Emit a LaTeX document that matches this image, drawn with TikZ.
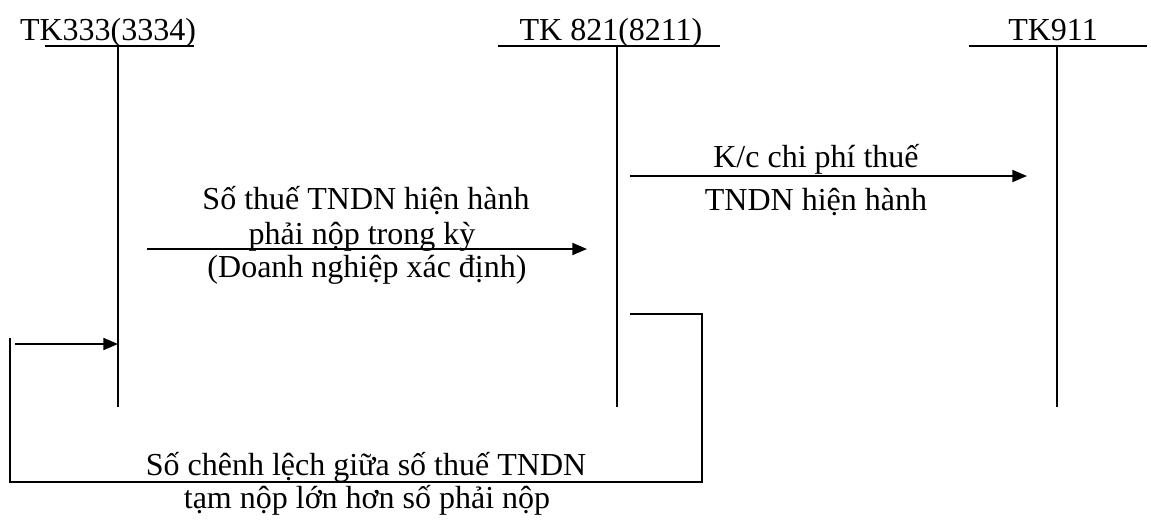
\documentclass[tikz,border=0pt]{standalone}
\usepackage{fontspec}
\setmainfont{Liberation Serif}
\usetikzlibrary{arrows.meta}
\tikzset{%
  acct/.style={anchor=base, inner sep=0pt, font=\fontsize{12}{14}\selectfont},
  lbl/.style={anchor=base, inner sep=0pt, font=\fontsize{12}{14}\selectfont},
  tline/.style={line width=0.75pt},
  flow/.style={line width=0.75pt, -{Triangle[length=5.5pt,width=4.5pt]}},
}

\begin{document}
\begin{tikzpicture}[x=0.375pt,y=-0.375pt]
  \useasboundingbox (0,0) rectangle (1151,519);
  % T accounts: name/title/title centre/underline ends/stem
  \foreach \n/\t/\c/\l/\r/\v in {a/TK333(3334)/108/45/194/118,
                                 b/TK 821(8211)/611/498/720/617,
                                 c/TK911/1053/969/1147/1057}{
    \node[acct] (\n) at (\c,40) {\t};
    \coordinate (\n-top) at (\v,46);
    \coordinate (\n-bot) at (\v,407);
    \draw[tline] (\l,46) -- (\r,46);
    \draw[tline] (\n-top) -- (\n-bot);
  }
  % tax payable 333 -> 821
  \coordinate (s1) at (147,249);
  \coordinate (e1) at (587,249);
  \draw[flow] (s1) -- (e1);
  \node[lbl] (t1) at (366,209) {Số thuế TNDN hiện hành};
  \node[lbl] (t2) at (362,244) {phải nộp trong kỳ};
  \node[lbl] (t3) at (367,277) {(Doanh nghiệp xác định)};
  % closing 821 -> 911
  \coordinate (s2) at (630,176);
  \coordinate (e2) at (1027,176);
  \draw[flow] (s2) -- (e2);
  \node[lbl] (t4) at (816,167) {K/c chi phí thuế};
  \node[lbl] (t5) at (816,210) {TNDN hiện hành};
  % overpaid difference 821 -> 333
  \coordinate (s3) at (630,314);
  \coordinate (k1) at (15,344);
  \draw[tline] (s3) -| (702,482) -| (10,338);
  \draw[flow] (k1) -- (k1-|a-top);
  \node[lbl] (t6) at (366,475) {Số chênh lệch giữa số thuế TNDN};
  \node[lbl] (t7) at (367,508) {tạm nộp lớn hơn số phải nộp};
\end{tikzpicture}
\end{document}
